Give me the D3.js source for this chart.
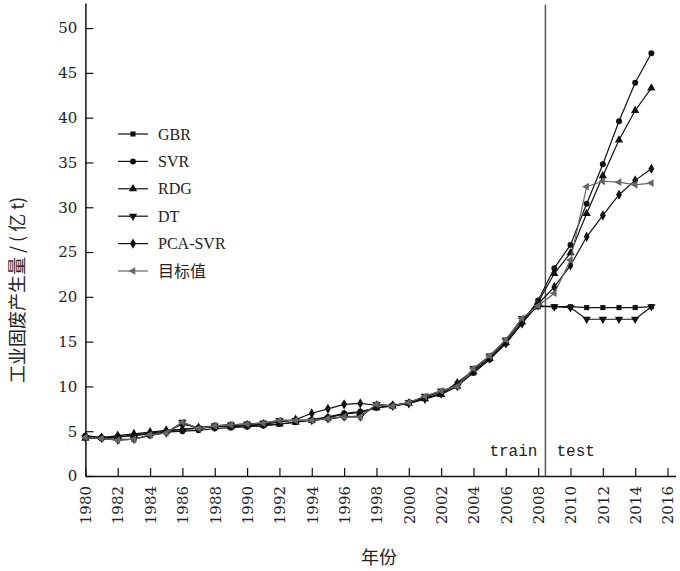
<!DOCTYPE html>
<html>
<head>
<meta charset="utf-8">
<script src="https://d3js.org/d3.v7.min.js"></script>
<style>
  body { margin: 0; background: #fff; }
  text { font-family: "Liberation Serif", "DejaVu Serif", serif; }
</style>
</head>
<body>
<div id="chart"></div>
<script>
// years and series
const years = d3.range(1980, 2016);
const splitYear = 2008.45;

const target = [4.3,4.2,4.0,4.1,4.6,4.8,6.0,5.3,5.6,5.7,5.8,5.9,6.2,6.2,6.2,6.4,6.6,6.6,8.0,7.8,8.2,8.9,9.5,10.0,12.0,13.4,15.2,17.6,19.0,
                20.4,24.1,32.3,32.9,32.8,32.5,32.7];
const gbr = [4.4,4.2,4.1,4.1,4.5,4.9,5.8,5.4,5.6,5.7,5.8,5.9,6.1,6.2,6.2,6.4,6.6,6.7,7.9,7.8,8.2,8.8,9.4,10.1,11.9,13.3,15.1,17.5,18.9,
             18.9,18.9,18.8,18.8,18.8,18.8,18.9];
const svr = [4.5,4.3,4.4,4.5,4.7,4.9,5.0,5.1,5.3,5.4,5.5,5.6,5.8,6.0,6.3,6.6,7.0,7.2,7.6,7.9,8.2,8.7,9.2,10.2,11.5,13.0,14.8,17.1,19.6,
             23.2,25.8,30.4,34.8,39.6,43.9,47.2];
const rdg = [4.2,4.3,4.3,4.6,4.8,5.0,5.2,5.3,5.5,5.5,5.6,5.7,5.8,6.0,6.2,6.5,6.9,7.1,7.6,7.8,8.1,8.6,9.1,10.0,11.6,13.1,14.9,17.2,19.4,
             22.6,24.9,29.3,33.5,37.5,40.8,43.3];
const dt = [4.3,4.2,4.0,4.1,4.6,4.8,6.0,5.3,5.6,5.7,5.8,5.9,6.2,6.2,6.2,6.4,6.6,6.6,8.0,7.8,8.2,8.9,9.5,10.0,12.0,13.4,15.2,17.6,19.0,
            18.9,18.8,17.5,17.5,17.5,17.5,18.9];
const pcaSvr = [4.4,4.3,4.5,4.7,4.9,5.1,5.2,5.4,5.5,5.6,5.7,5.8,6.0,6.3,7.0,7.5,8.0,8.1,7.9,7.9,8.1,8.6,9.2,10.4,11.8,13.1,14.8,17.0,19.2,
                21.1,23.5,26.7,29.1,31.4,33.0,34.3];

const xTicks = d3.range(1980, 2017, 2);
const yTicks = d3.range(0, 51, 5);

const series = [
  {name: "GBR", values: gbr, symbol: d3.symbolSquare, size: 26, color: "#111", rot: 0},
  {name: "SVR", values: svr, symbol: d3.symbolCircle, size: 28, color: "#111", rot: 0},
  {name: "RDG", values: rdg, symbol: d3.symbolTriangle, size: 30, color: "#111", rot: 0},
  {name: "DT", values: dt, symbol: d3.symbolTriangle, size: 30, color: "#111", rot: 180},
  {name: "PCA-SVR", values: pcaSvr, symbol: d3.symbolDiamond, size: 30, color: "#111", rot: 0},
  {name: "目标值", values: target, symbol: d3.symbolTriangle, size: 26, color: "#666", rot: -90}
];

const width = 680, height = 571;
const serif = "'Liberation Serif', 'DejaVu Serif', serif";
const tickFont = "'DejaVu Serif', serif";
const cjk = "'Noto Sans CJK SC', sans-serif";
const svg = d3.select("#chart").append("svg")
  .attr("width", width).attr("height", height);

const x = d3.scaleLinear().domain([1980, 2016.5]).range([85.4, 675.6]);
const y = d3.scaleLinear().domain([0, 52.8]).range([476, 3]);

// axes, ticks pointing inward
const xAxis = svg.append("g")
  .attr("transform", "translate(0,476)")
  .call(d3.axisBottom(x).tickValues(xTicks).tickFormat(d3.format("d")).tickSize(-8).tickSizeOuter(0));
xAxis.selectAll("text")
  .attr("transform", "rotate(-90)")
  .attr("x", -10).attr("y", 0).attr("dy", "0.35em")
  .style("text-anchor", "end")
  .style("font-family", tickFont).style("font-size", "15px")
  .attr("fill", "#222");

const yAxis = svg.append("g")
  .attr("transform", "translate(85.4,0)")
  .call(d3.axisLeft(y).tickValues(yTicks).tickSize(-8).tickSizeOuter(0));
yAxis.selectAll("text").attr("x", -8)
  .style("font-family", tickFont).style("font-size", "15px")
  .attr("fill", "#222");

svg.selectAll(".domain").attr("stroke", "#111").attr("stroke-width", 1.5);
svg.selectAll(".tick line").attr("stroke", "#111").attr("stroke-width", 1.2);

// train / test divider
svg.append("line")
  .attr("x1", x(splitYear)).attr("x2", x(splitYear))
  .attr("y1", y(0)).attr("y2", y(52.6))
  .attr("stroke", "#555").attr("stroke-width", 1.5);
svg.append("text").attr("x", x(splitYear) - 8).attr("y", 456)
  .attr("text-anchor", "end").style("font-family", "'Liberation Mono', monospace")
  .style("font-size", "16px").attr("fill", "#222").text("train");
svg.append("text").attr("x", x(splitYear) + 11).attr("y", 456)
  .style("font-family", "'Liberation Mono', monospace")
  .style("font-size", "16px").attr("fill", "#222").text("test");

const line = d3.line().x((d, i) => x(years[i])).y(d => y(d));

series.forEach(s => {
  svg.append("path").datum(s.values)
    .attr("d", line).attr("fill", "none")
    .attr("stroke", s.color).attr("stroke-width", 1.2);
  svg.append("g").selectAll("path").data(s.values).join("path")
    .attr("d", d3.symbol().type(s.symbol).size(s.size))
    .attr("transform", (d, i) => `translate(${x(years[i])},${y(d)}) rotate(${s.rot})`)
    .attr("fill", s.color);
});

// legend
const legend = svg.append("g").attr("transform", "translate(118,134)");
series.forEach((s, i) => {
  const g = legend.append("g").attr("transform", `translate(0,${i * 27.4})`);
  g.append("line").attr("x1", 0).attr("x2", 30).attr("y1", 0).attr("y2", 0)
    .attr("stroke", s.color).attr("stroke-width", 1.2);
  g.append("path").attr("d", d3.symbol().type(s.symbol).size(s.size))
    .attr("transform", `translate(15,0) rotate(${s.rot})`).attr("fill", s.color);
  g.append("text").attr("x", 40).attr("y", 0).attr("dy", "0.35em")
    .style("font-size", "16px").attr("fill", "#222")
    .style("font-family", s.name === "目标值" ? cjk : serif)
    .text(s.name);
});

// axis titles
svg.append("text")
  .attr("transform", "translate(24,290) rotate(-90)")
  .attr("text-anchor", "middle")
  .style("font-family", cjk)
  .style("font-size", "18px").attr("fill", "#222")
  .text("工业固废产生量 / ( 亿 t)");
svg.append("text")
  .attr("x", 379).attr("y", 564)
  .attr("text-anchor", "middle")
  .style("font-family", cjk)
  .style("font-size", "18px").attr("fill", "#222")
  .text("年份");
</script>
</body>
</html>
